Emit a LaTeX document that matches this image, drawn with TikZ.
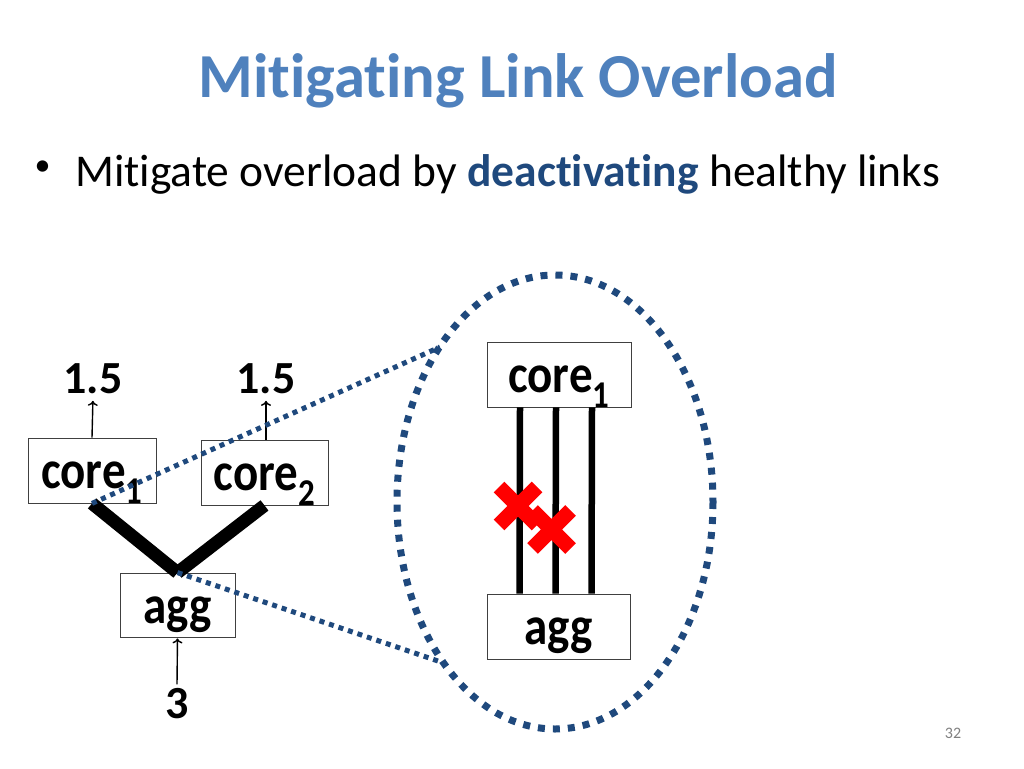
\documentclass[tikz,border=0pt]{standalone}
\usepackage{fontspec}
\setmainfont{Carlito}[Ligatures=NoCommon]
\usepackage{xcolor}
\usepackage{graphicx}
\usepackage{tikz}
\usetikzlibrary{arrows.meta}
\definecolor{titleblue}{RGB}{79,129,189}
\definecolor{deepblue}{RGB}{31,73,125}
\newcommand{\tallword}[1]{\scalebox{1}[1.15]{#1}}

\begin{document}
\begin{tikzpicture}[x=1pt,y=-1pt,
  box/.style={draw=black!75,line width=.8pt,inner sep=0pt,text height=42pt,text depth=6pt,
    font=\fontsize{47}{47}\selectfont\bfseries},
  num/.style={anchor=base,font=\fontsize{46}{46}\selectfont\bfseries},
  flow/.style={-{To[length=5pt,width=10pt]},line width=1.4pt},
  link/.style={line width=13pt},
  wire/.style={line width=6.5pt},
  zoomline/.style={deepblue,line width=5pt,dash pattern=on 5pt off 5pt},
  zoomring/.style={deepblue,line width=7pt,dash pattern=on 7pt off 8pt},
  xmark/.style={red,line width=15pt}]
\useasboundingbox[fill=white] (0,0) rectangle (1024,768);
% heading
\node[anchor=base,text=titleblue,font=\fontsize{62.6}{62.6}\selectfont\bfseries] (title) at (518,97) {Mitigating Link Overload};
\node[font=\fontsize{32}{32}\selectfont,inner sep=0pt] (dot) at (42.5,168.5) {•};
\node[anchor=base west,inner sep=0pt,font=\fontsize{45.5}{45.5}\selectfont] (point) at (75,186)
  {Mitigate overload by \textbf{\color{deepblue}deactivating} healthy links};
% left: small topology
\node[box,minimum width=128,minimum height=65] (c1) at (92,470.5) {\tallword{core\textsubscript{1}}};
\node[box,minimum width=127,minimum height=65] (c2) at (264.5,472.5) {\tallword{core\textsubscript{2}}};
\node[box,minimum width=115,minimum height=64] (agg) at (177.5,605) {\tallword{agg}};
\node[num] (l1) at (93,393) {1.5};
\node[num] (l2) at (266,393) {1.5};
\node[num] (l3) at (177,718) {3};
\draw[flow,shorten >=4pt] (c1.north) -- (l1.south);
\draw[flow,shorten >=4pt] ([xshift=1.5pt]c2.north) -- (l2.south);
\draw[flow,shorten >=1pt] (l3.north) -- (agg.south);
\draw[link] (c1.south) -- (agg.north);
\draw[link] (c2.south) -- (agg.north);
% zoom lens
\coordinate (zt) at (440,347);
\coordinate (zb) at (441,662);
\draw[zoomline] (c1.south) -- (zt);
\draw[zoomline] (agg.north) -- (zb);
\draw[zoomring] (555,502) ellipse [x radius=158,y radius=227];
% right: parallel links
\node[box,minimum width=144,minimum height=65] (rc) at (559,374.5) {\tallword{core\textsubscript{1}}};
\node[box,minimum width=143,minimum height=65] (ra) at (558.5,626.5) {\tallword{agg}};
\foreach \dx in {-39,-3,33}
  \draw[wire] ([xshift=\dx]rc.south) -- ([xshift=\dx]ra.north);
\foreach \cx/\cy in {518/506,551.5/529.5}
  \draw[xmark] (\cx-19,\cy-19) -- (\cx+19,\cy+19) (\cx-19,\cy+19) -- (\cx+19,\cy-19);
\node[text=black!50,font=\fontsize{16}{16}\selectfont] (page) at (953,733) {32};
\end{tikzpicture}
\end{document}
